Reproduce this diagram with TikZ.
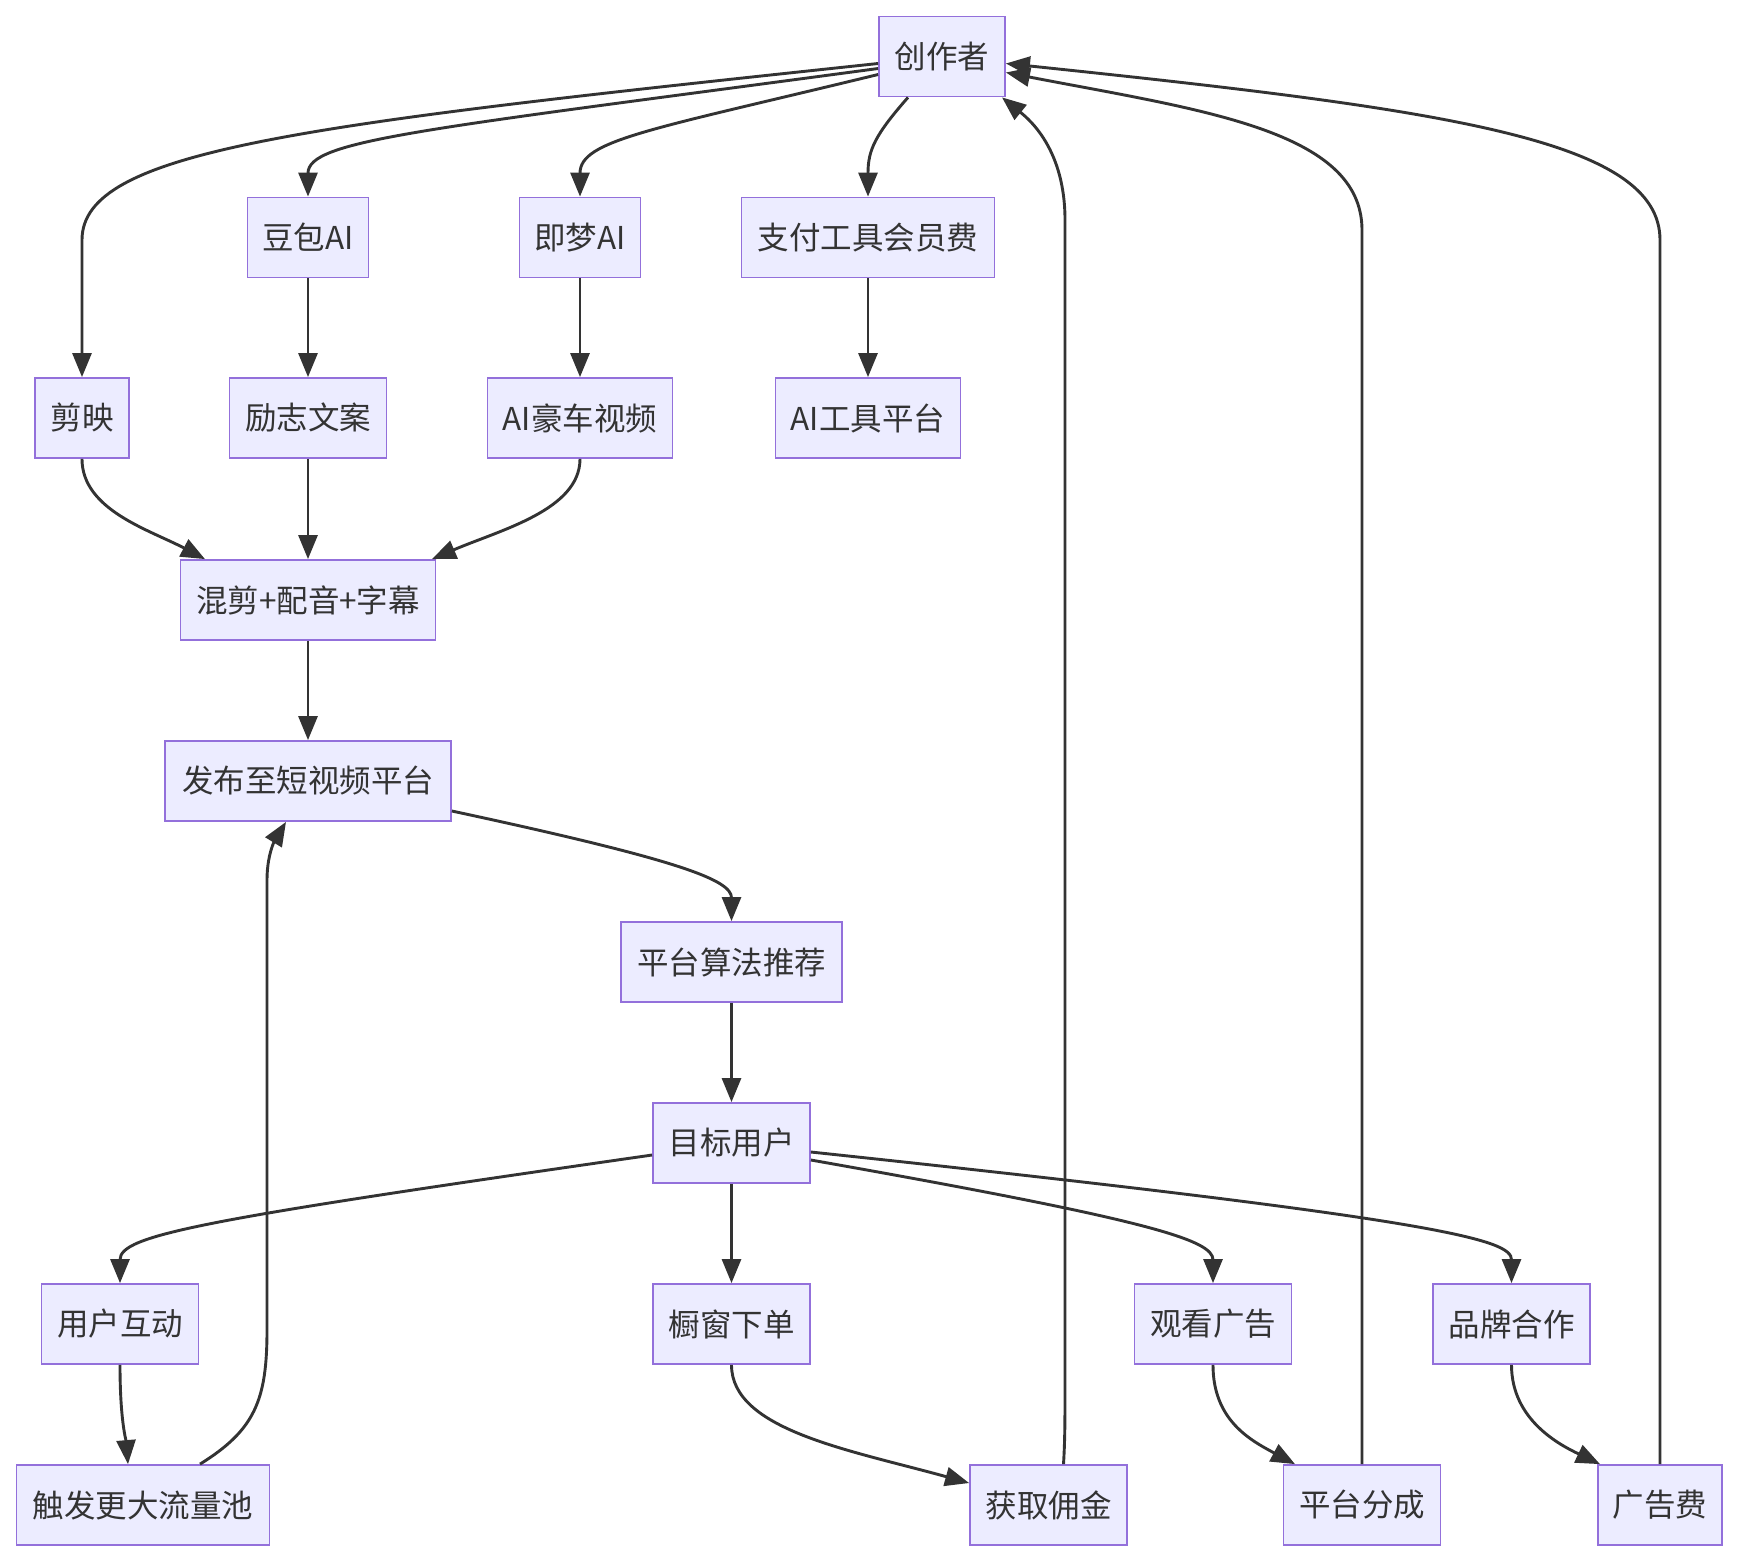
\documentclass[tikz,border=0pt]{standalone}
\usepackage{fontspec}
\newfontfamily\cjk{Noto Sans CJK SC}
\usetikzlibrary{arrows.meta}
\definecolor{boxfill}{HTML}{ECECFF}
\definecolor{boxborder}{HTML}{9370DB}
\definecolor{edgec}{HTML}{333333}
\definecolor{txt}{HTML}{333333}
\tikzset{
  box/.style={draw=boxborder, fill=boxfill, line width=1.8pt, text=txt,
    minimum height=80pt, inner sep=0pt, font={\cjk\fontsize{31.5}{38}\selectfont}},
  edge/.style={draw=edgec, line width=2.9pt, -{Triangle[length=24pt,width=19pt]}}
}
\begin{document}
\begin{tikzpicture}[x=1pt,y=-1pt]
\useasboundingbox (0,0) rectangle (1740,1564);
% nodes
\node[box, minimum width=126pt] (c) at (942,56.5) {创作者};
\node[box, minimum width=121pt] (db) at (308,237.5) {豆包AI};
\node[box, minimum width=121pt] (jm) at (580,237.5) {即梦AI};
\node[box, minimum width=253pt] (zf) at (868,237.5) {支付工具会员费};
\node[box, minimum width=94pt] (jy) at (82,418) {剪映};
\node[box, minimum width=157pt] (lz) at (308,418) {励志文案};
\node[box, minimum width=185pt] (ys) at (580,418) {AI豪车视频};
\node[box, minimum width=185pt] (gj) at (868,418) {AI工具平台};
\node[box, minimum width=255pt] (hj) at (308,600) {混剪+配音+字幕};
\node[box, minimum width=286pt] (fb) at (308,781) {发布至短视频平台};
\node[box, minimum width=221pt] (tj) at (731.5,962) {平台算法推荐};
\node[box, minimum width=157pt] (mb) at (731.5,1143) {目标用户};
\node[box, minimum width=157pt] (hd) at (120,1324) {用户互动};
\node[box, minimum width=157pt] (mc) at (731.5,1324) {橱窗下单};
\node[box, minimum width=157pt] (gk) at (1213,1324) {观看广告};
\node[box, minimum width=157pt] (pp) at (1511.5,1324) {品牌合作};
\node[box, minimum width=253pt] (cf) at (143,1505) {触发更大流量池};
\node[box, minimum width=157pt] (hq) at (1048.5,1505) {获取佣金};
\node[box, minimum width=157pt] (pf) at (1362,1505) {平台分成};
\node[box, minimum width=124pt] (gg) at (1660,1505) {广告费};
% edges
\draw[edge] ([yshift=-7pt]c.west) .. controls (300,125) and (82,150) .. (82,240) -- (jy.north);
\draw[edge] ([yshift=-12pt]c.west) .. controls (420,130) and (308,140) .. (db.north);
\draw[edge] ([yshift=-18pt]c.west) .. controls (650,130) and (580,140) .. (jm.north);
\draw[edge] ([xshift=-34pt]c.south) .. controls (875,135) and (868,150) .. (zf.north);
\draw[edge] (db.south) -- (lz.north);
\draw[edge] (jm.south) -- (ys.north);
\draw[edge] (zf.south) -- (gj.north);
\draw[edge] (jy.south) .. controls (82,510) and (150,530) .. ([xshift=-103pt]hj.north);
\draw[edge] (lz.south) -- (hj.north);
\draw[edge] (ys.south) .. controls (580,510) and (500,530) .. ([xshift=124pt]hj.north);
\draw[edge] (hj.south) -- (fb.north);
\draw[edge] ([yshift=-30pt]fb.east) .. controls (680,860) and (731.5,880) .. (tj.north);
\draw[edge] (tj.south) -- (mb.north);
\draw[edge] ([yshift=-12pt]mb.west) .. controls (200,1220) and (120,1235) .. (hd.north);
\draw[edge] (mb.south) -- (mc.north);
\draw[edge] ([yshift=-17pt]mb.east) .. controls (1150,1220) and (1213,1240) .. (gk.north);
\draw[edge] ([yshift=-9pt]mb.east) .. controls (1450,1220) and (1511.5,1240) .. (pp.north);
\draw[edge] (hd.south) .. controls (120,1420) and (126,1440) .. ([xshift=-15pt]cf.north);
\draw[edge] ([xshift=57pt]cf.north) .. controls (255,1430) and (267,1400) .. (267,1330) -- (267,880) .. controls (267,850) and (278,835) .. ([xshift=-22pt]fb.south);
\draw[edge] (mc.south) .. controls (731.5,1430) and (850,1450) .. ([yshift=22pt]hq.west);
\draw[edge] ([xshift=15pt]hq.north) .. controls (1065,1440) and (1065,1420) .. (1065,1380) -- (1065,220) .. controls (1065,150) and (1030,120) .. ([xshift=60pt]c.south);
\draw[edge] (gk.south) .. controls (1213,1420) and (1250,1440) .. ([xshift=-67pt]pf.north);
\draw[edge] (pf.north) -- (1362,230) .. controls (1362,130) and (1200,110) .. ([yshift=-16pt]c.east);
\draw[edge] (pp.south) .. controls (1511.5,1420) and (1560,1445) .. ([xshift=-60pt]gg.north);
\draw[edge] (gg.north) -- (1660,240) .. controls (1660,140) and (1450,110) .. ([yshift=-7pt]c.east);
\end{tikzpicture}
\end{document}
